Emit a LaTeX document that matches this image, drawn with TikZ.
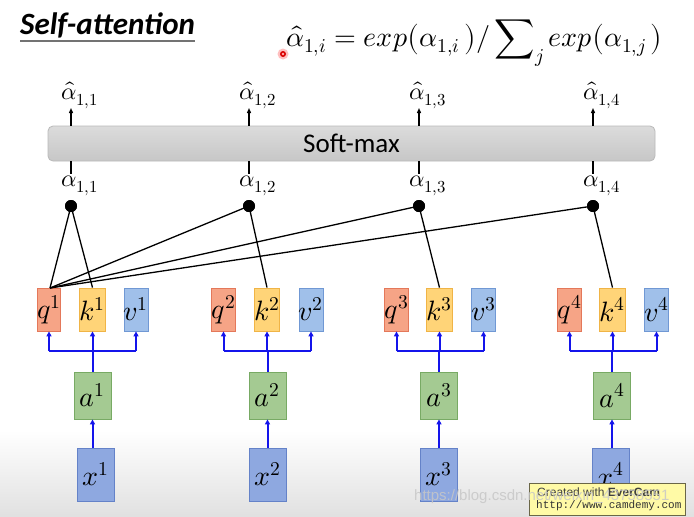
\documentclass[tikz,border=0pt]{standalone}
\usepackage{fontspec}
\usepackage{unicode-math}
\setmainfont{Carlito}
\setmathfont{Latin Modern Math}
\newfontfamily\wmfont{Liberation Sans}
\newfontfamily\monofont{Liberation Mono}
\usetikzlibrary{arrows.meta}
\definecolor{qf}{RGB}{246,164,134}
\definecolor{qb}{RGB}{228,120,90}
\definecolor{kf}{RGB}{255,212,120}
\definecolor{kb}{RGB}{240,180,70}
\definecolor{vf}{RGB}{160,192,234}
\definecolor{vb}{RGB}{112,152,212}
\definecolor{af}{RGB}{164,202,146}
\definecolor{ab}{RGB}{120,170,100}
\definecolor{xf}{RGB}{142,168,224}
\definecolor{xb}{RGB}{100,130,200}
\definecolor{bl}{RGB}{20,20,235}
\definecolor{smb}{RGB}{185,185,185}
\tikzset{
  vecbox/.style={draw, line width=0.8pt, inner sep=0pt, minimum width=22pt, minimum height=43pt, font=\fontsize{28}{30}\selectfont},
  qbox/.style={vecbox, draw=qb, fill=qf},
  kbox/.style={vecbox, draw=kb, fill=kf},
  vbox/.style={vecbox, draw=vb, fill=vf},
  abox/.style={vecbox, draw=ab, fill=af, minimum width=37pt, minimum height=47pt},
  xbox/.style={vecbox, draw=xb, fill=xf, minimum width=37pt, minimum height=53pt},
  blline/.style={draw=bl, line width=2pt},
  blarrow/.style={blline, -{Triangle[length=5pt,width=5pt]}},
  dotnode/.style={circle, fill=black, inner sep=0pt, minimum size=12pt},
  alab/.style={inner sep=1pt, font=\fontsize{24}{26}\selectfont},
  kline/.style={draw=black, line width=1.3pt},
  karrow/.style={kline, -{Triangle[length=5pt,width=4pt]}},
}
\begin{document}
\begin{tikzpicture}[x=1pt,y=-1pt]
\useasboundingbox (0,0) rectangle (694,517);
\fill[white] (0,0) rectangle (694,517);
\shade[top color=white, bottom color=black!12] (0,430) rectangle (694,517);

% title
\node[anchor=west, inner sep=0pt, font=\fontsize{31}{33}\selectfont\bfseries\itshape] (title) at (20,25) {Self-attention};
\draw[line width=2pt, black!55] (title.south west |- 0,41) -- (title.south east |- 0,41);

% formula
\node[anchor=west, inner sep=0pt, font=\fontsize{28}{32}\selectfont] (formula) at (286,43)
 {$\hat{\alpha}_{1,i} = exp\bigl(\alpha_{1,i}\,\bigr)/\displaystyle\sum\nolimits_j exp\bigl(\alpha_{1,j}\,\bigr)$};
\fill[red!25] (283,54) circle (5.5pt);
\fill[red!85!black] (283,54) circle (3pt);
\fill[red!30] (283,54) circle (1.3pt);

% softmax
\node[draw=smb, line width=0.8pt, rounded corners=5pt, top color=black!14, bottom color=black!22,
      minimum width=607pt, minimum height=35pt, inner sep=0pt, font=\fontsize{27}{29}\selectfont] (sm) at (351.5,143.5) {Soft-max};

% dots and labels
\foreach \i/\xx in {1/71,2/249,3/419,4/593}{
  \node[dotnode] (d\i) at (\xx,206) {};
  \node[alab, anchor=west] (la\i) at (\xx-11,186) {$\alpha_{1,\i}$};
  \node[alab, anchor=west] (lh\i) at (\xx-11,95) {$\hat{\alpha}_{1,\i}$};
  \coordinate (lb\i) at (\xx,174);
  \coordinate (lt\i) at (\xx,108);
  \draw[kline] (sm.south -| d\i) -- (lb\i);
  \draw[karrow] (sm.north -| d\i) -- (lt\i);
}

% columns
\foreach \i/\q/\k/\v/\a/\xx in {1/49/92.5/136/92.5/95.5, 2/223.5/267/311/267.5/267.5, 3/396.5/439.5/483.5/439/439, 4/569.5/612.5/656.5/612/611}{
  \node[qbox] (q\i) at (\q,309.5) {$q^{\i}$};
  \node[kbox] (k\i) at (\k,309.5) {$k^{\i}$};
  \node[vbox] (v\i) at (\v,309.5) {$v^{\i}$};
  \node[abox] (a\i) at (\a,395.5) {$a^{\i}$};
  \node[xbox] (x\i) at (\xx,474.5) {$x^{\i}$};
  \coordinate (jq\i) at (q\i.south |- 0,351);
  \coordinate (jk\i) at (k\i.south |- 0,351);
  \coordinate (jv\i) at (v\i.south |- 0,351);
  \draw[blline] (jq\i) -- (jv\i);
  \draw[blline] (a\i.north) -- (a\i.north |- jk\i);
  \draw[blarrow] (jq\i) -- (q\i.south);
  \draw[blarrow] (jk\i) -- (k\i.south);
  \draw[blarrow] (jv\i) -- (v\i.south);
  \draw[blarrow] (x\i.north -| a\i.south) -- (a\i.south);
}

% attention lines
\coordinate (qt) at (50,288);
\foreach \i in {1,2,3,4}{
  \draw[kline] (qt) -- (d\i.center);
}
\draw[kline] (k1.north) -- (d1.center);
\draw[kline] (k2.north) -- (d2.center);
\draw[kline] (k3.north) -- (d3.center);
\draw[kline] (k4.north) -- (d4.center);
\foreach \i in {1,2,3,4}{
  \node[dotnode] at (d\i) {};
}

% watermark & recorder box
\node[draw=black!45!yellow!60!black, line width=0.8pt, fill=yellow!35, minimum width=156pt, minimum height=32pt, inner sep=0pt] (ec) at (607,499) {};
\node[anchor=west, inner sep=0pt, font=\wmfont\fontsize{12}{14}\selectfont, text=black!75] (ec1) at (537,492) {Created with \textbf{EverCam}};
\node[anchor=west, inner sep=0pt, font=\monofont\fontsize{11}{12}\selectfont, text=black!80] (ec2) at (536,506) {http://www.camdemy.com};
\node[anchor=west, inner sep=0pt, font=\wmfont\fontsize{15}{16}\selectfont, text=black!22, opacity=0.85] (wm) at (414,497) {https://blog.csdn.net/weixin\_43758551};
\end{tikzpicture}
\end{document}
